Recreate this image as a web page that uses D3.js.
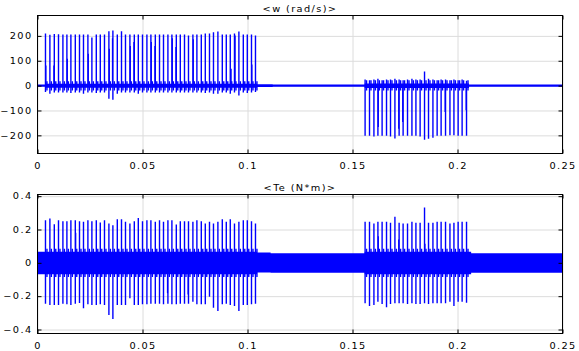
<!DOCTYPE html>
<html>
<head>
<meta charset="utf-8">
<script src="https://cdn.jsdelivr.net/npm/d3@7"></script>
<style>
  body { margin: 0; background: #fff; }
  text { font-family: "DejaVu Sans", sans-serif; font-size: 8.5px; letter-spacing: 1.2px; fill: #000; }
</style>
</head>
<body>
<div id="chart"></div>
<script>
// tick values
var xTicks = [0, 0.05, 0.1, 0.15, 0.2, 0.25];
var wTicks = [-200, -100, 0, 100, 200];
var teTicks = [-0.4, -0.2, 0, 0.2, 0.4];

// spike times, first burst (s)
var burst1T = [0.0038,0.0059,0.0080,0.0100,0.0121,0.0140,0.0159,0.0180,0.0200,0.0219,0.0240,0.0259,0.0280,0.0299,0.0319,0.0340,0.0359,0.0380,0.0400,0.0419,0.0440,0.0461,0.0480,0.0500,0.0521,0.0540,0.0561,0.0581,0.0600,0.0621,0.0640,0.0661,0.0680,0.0700,0.0719,0.0740,0.0759,0.0780,0.0799,0.0819,0.0838,0.0859,0.0880,0.0899,0.0918,0.0938,0.0959,0.0980,0.0999,0.1019,0.1038];
// spike times, second burst (s)
var burst2T = [0.1560,0.1581,0.1602,0.1621,0.1641,0.1662,0.1681,0.1702,0.1722,0.1741,0.1762,0.1783,0.1802,0.1822,0.1843,0.1862,0.1883,0.1903,0.1922,0.1943,0.1964,0.1983,0.2003,0.2022,0.2043];

// <w (rad/s)>
var wPeak1 = [210,205,208,207,206,206,206,206,206,206,206,194,206,206,206,219,222,206,219,206,206,206,206,206,206,206,206,206,206,206,206,206,206,206,202,206,206,206,210,210,215,218,206,206,206,210,218,206,206,206,202];
var wTrough1 = [-26,-33,-28,-28,-28,-28,-30,-28,-28,-33,-28,-28,-30,-28,-28,-53,-57,-33,-28,-28,-28,-28,-33,-28,-28,-28,-28,-28,-28,-28,-28,-28,-28,-28,-28,-28,-28,-28,-30,-28,-33,-33,-28,-28,-33,-28,-40,-28,-30,-28,-26];
var wPeak2 = [25,22,25,28,22,25,25,28,25,22,25,28,25,25,57,28,25,22,25,25,22,25,22,25,20];
var wTrough2 = [-202,-202,-205,-202,-202,-202,-205,-213,-202,-202,-202,-202,-202,-205,-218,-214,-210,-202,-202,-202,-200,-200,-202,-202,-202];
var wSecT = [0.0040,0.0078,0.0142,0.0242,0.0342,0.0357,0.0442,0.0459,0.0542,0.0559,0.0642,0.0659,0.0742,0.0922,0.0941,0.1021,0.1623,0.1720,0.1739,0.1941,0.2041];
var wSecV = [81,81,108,128,148,191,159,175,175,159,191,155,186,68,202,85,-166,-173,-146,-106,-99];
var wTooth1 = [-20, 18];
var wTooth2 = [-20, 22];
// fast ripple envelope of w
var wBandT = [0, 0.0038, 0.1045, 0.112, 0.1558, 0.2055, 0.25];
var wBandHi = [5, 8, 6, 5, 9, 5, 5];
var wBandLo = [-5, -9, -6, -5, -10, -5, -5];

// <Te (N*m)>
var tePeak1 = [0.256,0.266,0.232,0.256,0.25,0.25,0.256,0.256,0.25,0.246,0.256,0.25,0.256,0.242,0.256,0.236,0.226,0.262,0.262,0.246,0.236,0.25,0.269,0.25,0.256,0.256,0.246,0.256,0.246,0.256,0.256,0.23,0.25,0.25,0.25,0.246,0.256,0.25,0.236,0.246,0.236,0.246,0.262,0.246,0.262,0.236,0.246,0.256,0.256,0.25,0.236];
var teTrough1 = [-0.245,-0.253,-0.253,-0.253,-0.245,-0.249,-0.253,-0.245,-0.241,-0.273,-0.249,-0.253,-0.253,-0.249,-0.253,-0.313,-0.337,-0.253,-0.253,-0.253,-0.213,-0.253,-0.253,-0.249,-0.249,-0.245,-0.245,-0.245,-0.249,-0.245,-0.249,-0.249,-0.245,-0.245,-0.245,-0.233,-0.249,-0.249,-0.249,-0.203,-0.269,-0.289,-0.249,-0.245,-0.253,-0.259,-0.289,-0.253,-0.253,-0.249,-0.245];
var tePeak2 = [0.246,0.246,0.236,0.246,0.246,0.246,0.24,0.276,0.24,0.236,0.236,0.246,0.24,0.24,0.332,0.24,0.24,0.246,0.246,0.246,0.236,0.24,0.246,0.246,0.246];
var teTrough2 = [-0.243,-0.259,-0.253,-0.233,-0.247,-0.267,-0.247,-0.243,-0.243,-0.243,-0.247,-0.243,-0.247,-0.247,-0.243,-0.247,-0.243,-0.243,-0.243,-0.243,-0.233,-0.259,-0.233,-0.233,-0.239];
var teSecT = [0.0182, 0.0619, 0.0717, 0.1623, 0.1720, 0.1845];
var teSecV = [0.18, -0.183, -0.19, 0.16, 0.14, 0.115];
var teTooth = [-0.085, 0.085];
var teBandT = [0, 0.1045, 0.111, 0.1558, 0.2065, 0.25];
var teBandHi = [0.066, 0.062, 0.058, 0.066, 0.058, 0.058];
var teBandLo = [-0.068, -0.058, -0.06, -0.068, -0.06, -0.06];

var W = 579, H = 351;
var plotW = 525;
var stretch = 1.15; // reference font is wide

var svg = d3.select("#chart").append("svg")
    .attr("width", W)
    .attr("height", H);

var x = d3.scaleLinear().domain([0, 0.25]).range([0, plotW]);

function spikes(T, lo, hi) {
  return T.map(function(t, i) { return {t: t, lo: lo[i], hi: hi[i]}; });
}

function drawPanel(p) {
  var g = svg.append("g").attr("transform", "translate(37.5," + p.top + ")");
  var y = d3.scaleLinear().domain(p.domain).range([p.height, 0]);

  // grid
  g.append("g")
    .attr("class", "grid")
    .call(d3.axisBottom(x).tickValues(xTicks).tickSize(p.height).tickFormat(""))
    .call(function(s) { s.select(".domain").remove(); });
  g.append("g")
    .attr("class", "grid")
    .call(d3.axisLeft(y).tickValues(p.ticks).tickSize(-plotW).tickFormat(""))
    .call(function(s) { s.select(".domain").remove(); });
  g.selectAll(".grid line").attr("stroke", "#dcdcdc").attr("stroke-width", 1);

  var clipId = "clip" + p.id;
  g.append("clipPath").attr("id", clipId)
    .append("rect").attr("width", plotW).attr("height", p.height);
  var plot = g.append("g").attr("clip-path", "url(#" + clipId + ")");

  // ripple envelope
  var band = d3.area()
      .x(function(d) { return x(d[0]); })
      .y0(function(d) { return y(d[1]); })
      .y1(function(d) { return y(d[2]); })
      .curve(d3.curveStepAfter);
  plot.append("path")
    .datum(p.bandT.map(function(t, i) { return [t, p.bandLo[i], p.bandHi[i]]; }))
    .attr("fill", "#0000ff")
    .attr("d", band);

  // teeth next to each spike
  plot.selectAll(".tooth")
    .data(p.b1.map(function(t) { return [t, p.tooth1]; }).concat(p.b2.map(function(t) { return [t, p.tooth2]; })))
    .enter().append("line")
      .attr("x1", function(d) { return x(d[0] + 0.0007); })
      .attr("x2", function(d) { return x(d[0] + 0.0007); })
      .attr("y1", function(d) { return y(d[1][0]); })
      .attr("y2", function(d) { return y(d[1][1]); })
      .attr("stroke", "#0000ff")
      .attr("stroke-width", 1.4);

  // secondary spikes
  plot.selectAll(".sec")
    .data(p.secT.map(function(t, i) { return [t, p.secV[i]]; }))
    .enter().append("line")
      .attr("x1", function(d) { return x(d[0]); })
      .attr("x2", function(d) { return x(d[0]); })
      .attr("y1", y(0))
      .attr("y2", function(d) { return y(d[1]); })
      .attr("stroke", "#0000ff")
      .attr("stroke-width", 1.2);

  // main spikes
  plot.selectAll(".spike")
    .data(spikes(p.b1, p.lo1, p.hi1).concat(spikes(p.b2, p.lo2, p.hi2)))
    .enter().append("line")
      .attr("x1", function(d) { return x(d.t); })
      .attr("x2", function(d) { return x(d.t); })
      .attr("y1", function(d) { return y(d.lo); })
      .attr("y2", function(d) { return y(d.hi); })
      .attr("stroke", "#0000ff")
      .attr("stroke-width", 1.4);

  // frame
  g.append("rect")
    .attr("width", plotW).attr("height", p.height)
    .attr("fill", "none").attr("stroke", "#000");

  // inward ticks on all sides
  var left = g.append("g").call(d3.axisLeft(y).tickValues(p.ticks).tickSize(-4).tickPadding(5)
      .tickFormat(function(d) { return d3.format("")(d); }))
    .call(function(s) { s.select(".domain").remove(); });
  left.selectAll(".tick text")
    .attr("x", -5 / stretch)
    .attr("transform", "scale(" + stretch + ",1)");
  g.append("g").attr("transform", "translate(" + plotW + ",0)")
    .call(d3.axisRight(y).tickValues(p.ticks).tickSize(-4).tickFormat(""))
    .call(function(s) { s.select(".domain").remove(); });
  var bottom = g.append("g").attr("transform", "translate(0," + p.height + ")")
    .call(d3.axisBottom(x).tickValues(xTicks).tickSize(-4).tickPadding(9)
      .tickFormat(function(d) { return d3.format("")(d); }))
    .call(function(s) { s.select(".domain").remove(); });
  bottom.selectAll(".tick text")
    .attr("transform", "scale(" + stretch + ",1)");
  g.append("g")
    .call(d3.axisTop(x).tickValues(xTicks).tickSize(-4).tickFormat(""))
    .call(function(s) { s.select(".domain").remove(); });
  g.selectAll(".tick text")
    .attr("font-family", null).attr("font-size", null)
    .attr("fill", "#000");

  // title
  g.append("text")
    .attr("x", plotW / 2 / stretch)
    .attr("y", -4)
    .attr("transform", "scale(" + stretch + ",1)")
    .attr("text-anchor", "middle")
    .text(p.title);
}

drawPanel({
  id: 1, top: 15.5, height: 138, domain: [-273, 282], ticks: wTicks,
  title: "<w (rad/s)>",
  b1: burst1T, lo1: wTrough1, hi1: wPeak1,
  b2: burst2T, lo2: wTrough2, hi2: wPeak2,
  secT: wSecT, secV: wSecV, tooth1: wTooth1, tooth2: wTooth2,
  bandT: wBandT, bandHi: wBandHi, bandLo: wBandLo
});

drawPanel({
  id: 2, top: 194.5, height: 139, domain: [-0.424, 0.41], ticks: teTicks,
  title: "<Te (N*m)>",
  b1: burst1T, lo1: teTrough1, hi1: tePeak1,
  b2: burst2T, lo2: teTrough2, hi2: tePeak2,
  secT: teSecT, secV: teSecV, tooth1: teTooth, tooth2: teTooth,
  bandT: teBandT, bandHi: teBandHi, bandLo: teBandLo
});
</script>
</body>
</html>
